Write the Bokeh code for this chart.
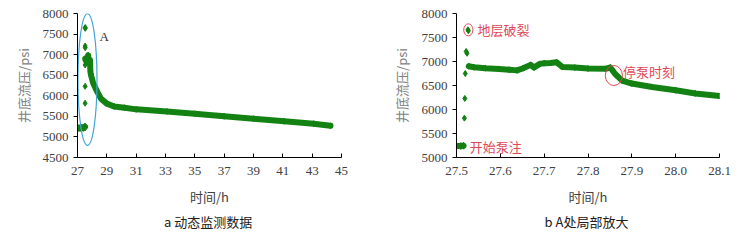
from bokeh.plotting import figure
from bokeh.layouts import row
from bokeh.models import Range1d, FixedTicker, NumeralTickFormatter, Title
from bokeh.core.properties import value
from bokeh.embed import file_html
from bokeh.resources import INLINE

# ---- data ----
t_pre = [27.0, 27.1, 27.2, 27.3, 27.4, 27.5, 27.51, 27.516]
p_pre = [5220, 5215, 5220, 5225, 5220, 5240, 5240, 5245]

t_spike = [27.518, 27.519, 27.520, 27.522, 27.524, 27.526, 27.527]
p_spike = [5820, 6230, 6750, 7210, 7170, 7660, 7640]

t_main = [27.528, 27.54, 27.566, 27.597, 27.62, 27.638, 27.652, 27.669, 27.677,
          27.69, 27.70, 27.715, 27.728, 27.742, 27.77, 27.80, 27.84, 27.851,
          27.862, 27.878, 27.90, 27.946, 28.0, 28.045, 28.1,
          28.36, 28.6, 29.0, 29.5, 30.2, 31.0, 33.1, 35.0, 37.0, 39.0, 41.1, 43.1, 44.25]
p_main = [6900, 6880, 6860, 6845, 6830, 6815, 6860, 6930, 6875,
          6950, 6965, 6970, 6985, 6885, 6875, 6855, 6848, 6875,
          6740, 6600, 6540, 6470, 6400, 6335, 6280,
          6090, 5930, 5810, 5740, 5710, 5670, 5620, 5565, 5500, 5444, 5380, 5322, 5270]

ticks_x_a = [27, 29, 31, 33, 35, 37, 39, 41, 43, 45]
ticks_y_a = [4500, 5000, 5500, 6000, 6500, 7000, 7500, 8000]
ticks_x_b = [27.5, 27.6, 27.7, 27.8, 27.9, 28.0, 28.1]
ticks_y_b = [5000, 5500, 6000, 6500, 7000, 7500, 8000]

GREEN = "#138213"
RED = "#e04858"
SERIF = "Liberation Serif"
CJK = "Noto Sans CJK SC"


def style(p, xt, yt, xfmt=None):
    p.xaxis.ticker = FixedTicker(ticks=xt)
    p.yaxis.ticker = FixedTicker(ticks=yt)
    if xfmt:
        p.xaxis.formatter = NumeralTickFormatter(format=xfmt)
    p.grid.visible = False
    p.outline_line_color = None
    for ax in (p.xaxis[0], p.yaxis[0]):
        ax.axis_line_color = "black"
        ax.major_tick_line_color = "black"
        ax.minor_tick_line_color = None
        ax.major_label_text_font = SERIF
        ax.major_label_text_font_size = "13px"
        ax.major_label_text_color = "#404040"
        ax.axis_label_text_font_style = "normal"
        ax.axis_label_text_font = CJK
        ax.axis_label_text_font_size = "13px"
    p.xaxis.major_tick_in = 4
    p.xaxis.major_tick_out = 0
    p.yaxis.major_tick_in = 0
    p.yaxis.major_tick_out = 4
    p.xaxis.major_label_standoff = 9
    p.yaxis.major_label_standoff = 5
    p.xaxis.axis_label = "时间/h"
    p.xaxis.axis_label_text_color = "#404040"
    p.xaxis.axis_label_standoff = 9
    p.yaxis.axis_label = "井底流压/psi"
    p.yaxis.axis_label_text_color = "#808080"
    p.yaxis.axis_label_standoff = 7


def draw_data(p):
    p.line(t_pre, p_pre, line_color=GREEN, line_width=6, line_cap="round", line_join="round")
    p.scatter(t_pre, p_pre, marker="diamond", size=7, color=GREEN)
    p.scatter(t_spike, p_spike, marker="diamond", size=6, color=GREEN)
    p.line(t_main, p_main, line_color=GREEN, line_width=6, line_cap="round", line_join="round")
    p.scatter(t_main, p_main, marker="diamond", size=6, color=GREEN)


# ---- chart a ----
p1 = figure(width=375, height=240, x_range=Range1d(27, 45), y_range=Range1d(4500, 8000),
            output_backend="svg", toolbar_location=None,
            min_border_left=77, min_border_right=34, min_border_top=13, min_border_bottom=83)
style(p1, ticks_x_a, ticks_y_a)
draw_data(p1)
p1.ellipse(x=[27.68], y=[6396], width=1.3, height=3208, fill_color=None,
           line_color="#3fa6dc", line_width=1.2)
p1.text(x=[28.5], y=[7440], text=["A"], text_font=value(SERIF), text_font_size="13px",
        text_color="#303030", text_baseline="middle", text_align="left")
p1.add_layout(Title(text="a  动态监测数据", align="center", text_font=CJK, standoff=3,
                    text_font_size="13px", text_font_style="normal", text_color="#202020"), "below")

# ---- chart b ----
p2 = figure(width=374, height=240, x_range=Range1d(27.5, 28.1), y_range=Range1d(5000, 8000),
            output_backend="svg", toolbar_location=None,
            min_border_left=81, min_border_right=30, min_border_top=13, min_border_bottom=83)
style(p2, ticks_x_b, ticks_y_b, xfmt="0.0")
p2.yaxis.axis_label_standoff = 8
draw_data(p2)
p2.ellipse(x=[27.527], y=[7660], width=0.021, height=250, fill_color=None,
           line_color=RED, line_width=1)
p2.ellipse(x=[27.859], y=[6708], width=0.039, height=417, fill_color=None,
           line_color=RED, line_width=1)
p2.text(x=[27.548, 27.53, 27.88], y=[7660, 5230, 6792], text=["地层破裂", "开始泵注", "停泵时刻"],
        text_font=value(CJK), text_font_size="13px", text_color=RED,
        text_baseline="middle", text_align="left")
p2.add_layout(Title(text="b  A处局部放大", align="center", text_font=CJK, standoff=3,
                    text_font_size="13px", text_font_style="normal", text_color="#202020"), "below")

layout = row(p1, p2)
open("out.html", "w").write(file_html(layout, INLINE))
